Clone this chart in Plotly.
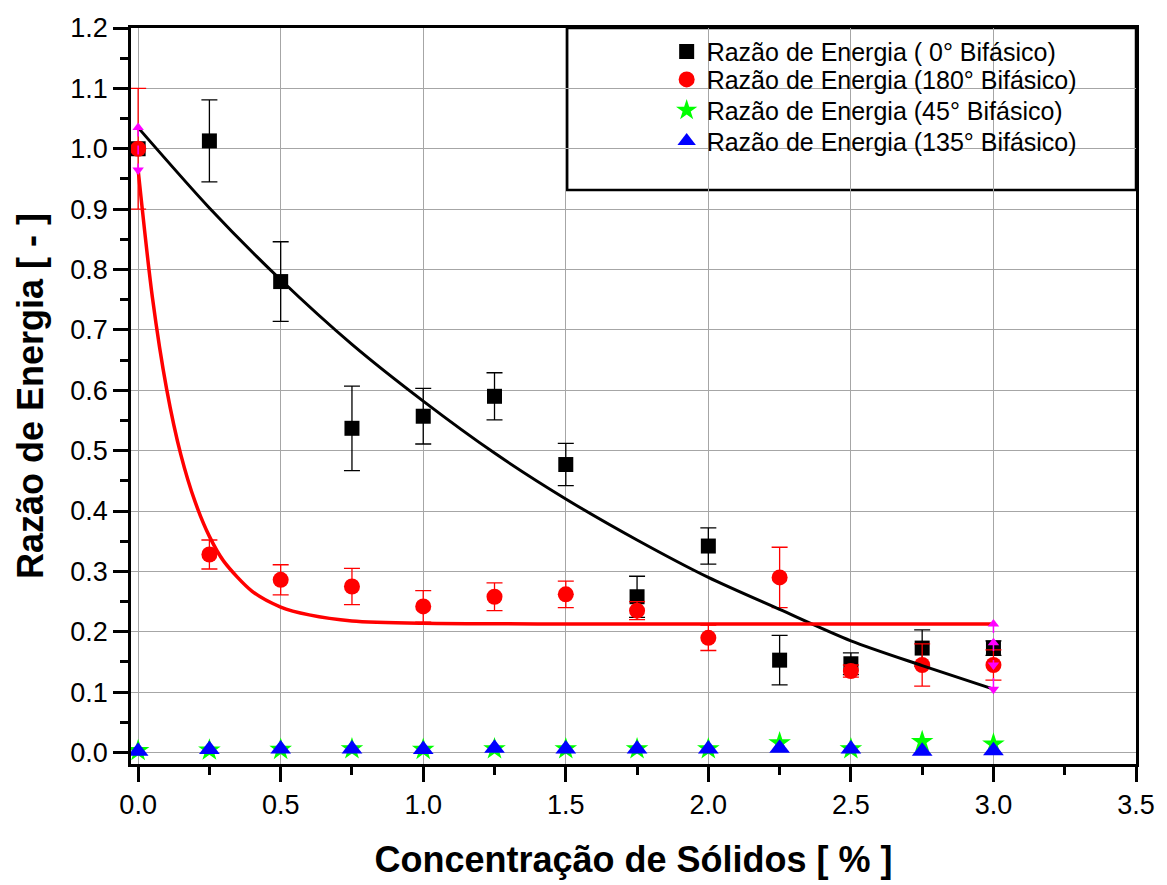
import plotly.graph_objects as go

# ---------------- data ----------------
conc = [0.0, 0.25, 0.5, 0.75, 1.0, 1.25, 1.5, 1.75, 2.0, 2.25, 2.5, 2.75, 3.0]

e0 = [1.0, 1.013, 0.780, 0.537, 0.557, 0.590, 0.477, 0.258, 0.342, 0.153, 0.147, 0.173, 0.173]
e0_err = [0.0, 0.068, 0.066, 0.070, 0.046, 0.039, 0.035, 0.034, 0.030, 0.041, 0.018, 0.030, 0.012]

e180 = [1.0, 0.328, 0.286, 0.275, 0.242, 0.258, 0.262, 0.235, 0.190, 0.290, 0.135, 0.145, 0.145]
e180_err = [0.100, 0.024, 0.025, 0.030, 0.026, 0.023, 0.022, 0.015, 0.021, 0.050, 0.010, 0.035, 0.025]

e45 = [0.003, 0.004, 0.005, 0.006, 0.005, 0.006, 0.006, 0.006, 0.006, 0.016, 0.006, 0.018, 0.014]
e135 = [0.002, 0.005, 0.006, 0.006, 0.005, 0.007, 0.006, 0.006, 0.006, 0.007, 0.006, 0.002, 0.003]

# fitted curves
fit0_x = [0, 0.25, 0.5, 0.75, 1.0, 1.25, 1.5, 1.75, 2.0, 2.25, 2.5, 2.75, 3.0]
fit0_y = [1.035, 0.902, 0.783, 0.676, 0.582, 0.496, 0.420, 0.352, 0.290, 0.237, 0.185, 0.144, 0.105]
fit180_x = [0, 0.05, 0.1, 0.15, 0.2, 0.25, 0.3, 0.4, 0.5, 0.6, 0.75, 1.0, 1.5, 2.0, 2.5, 3.0]
fit180_y = [0.965, 0.754, 0.602, 0.493, 0.415, 0.358, 0.317, 0.267, 0.241, 0.228, 0.218, 0.214,
            0.213, 0.213, 0.213, 0.213]

# range markers at curve ends
rng0_x = [0, 0]
rng0_y = [1.035, 0.965]
rng0_sym = ["triangle-up", "triangle-down"]
rng3_x = [3, 3, 3, 3]
rng3_y = [0.213, 0.182, 0.145, 0.105]
rng3_sym = ["triangle-up", "triangle-up", "triangle-down", "triangle-down"]

names = ["Razão de Energia ( 0° Bifásico)", "Razão de Energia (180° Bifásico)",
         "Razão de Energia (45° Bifásico)", "Razão de Energia (135° Bifásico)"]

x_ticks = [0.0, 0.5, 1.0, 1.5, 2.0, 2.5, 3.0, 3.5]
y_ticks = [0.0, 0.1, 0.2, 0.3, 0.4, 0.5, 0.6, 0.7, 0.8, 0.9, 1.0, 1.1, 1.2]

FONT = "Liberation Sans, Arial, sans-serif"

fig = go.Figure()

fig.add_trace(go.Scatter(
    x=conc, y=e0, mode="markers", name=names[0], legend="legend",
    marker=dict(symbol="square", size=15, color="black"),
    error_y=dict(type="data", array=e0_err, visible=True, color="black", thickness=1.3, width=8),
))
fig.add_trace(go.Scatter(
    x=conc, y=e180, mode="markers", name=names[1], legend="legend2",
    marker=dict(symbol="circle", size=16, color="red"),
    error_y=dict(type="data", array=e180_err, visible=True, color="red", thickness=1.3, width=8),
))
fig.add_trace(go.Scatter(
    x=conc, y=e45, mode="markers", name=names[2], legend="legend3",
    marker=dict(symbol="star", size=17, color="#00ff00"),
))
fig.add_trace(go.Scatter(
    x=conc, y=e135, mode="markers", name=names[3], legend="legend4",
    marker=dict(symbol="triangle-up", size=18, color="blue"),
))
fig.add_trace(go.Scatter(
    x=fit0_x, y=fit0_y, mode="lines", showlegend=False,
    line=dict(color="black", width=3, shape="spline", smoothing=0.8),
))
fig.add_trace(go.Scatter(
    x=fit180_x, y=fit180_y, mode="lines", showlegend=False,
    line=dict(color="red", width=3.5, shape="spline", smoothing=0.8),
))
fig.add_trace(go.Scatter(
    x=rng0_x, y=rng0_y, mode="lines+markers", showlegend=False,
    line=dict(color="magenta", width=1.5, dash="dash"),
    marker=dict(symbol=rng0_sym, size=10, color="magenta"),
))
fig.add_trace(go.Scatter(
    x=rng3_x, y=rng3_y, mode="lines+markers", showlegend=False,
    line=dict(color="magenta", width=1.5, dash="dash"),
    marker=dict(symbol=rng3_sym, size=10, color="magenta"),
))

axis_common = dict(
    showline=True, linecolor="black", linewidth=2.5, mirror=True,
    showgrid=True, gridcolor="#a6a6a6", gridwidth=1,
    ticks="outside", ticklen=15, tickwidth=2.5, tickcolor="black",
    tickfont=dict(family=FONT, size=27, color="black"),
    zeroline=False,
)

fig.update_xaxes(
    **axis_common,
    range=[-0.025, 3.5], tickvals=x_ticks, ticktext=[f"{v:.1f}" for v in x_ticks],
    minor=dict(dtick=0.25, tick0=0, ticks="outside", ticklen=8, tickwidth=2.5,
               tickcolor="black", showgrid=False),
    title=dict(text="Concentração de Sólidos [ % ]",
               font=dict(family=FONT, size=36, color="black", weight="bold"), standoff=28),
)
fig.update_yaxes(
    **axis_common,
    range=[-0.019, 1.2], tickvals=y_ticks, ticktext=[f"{v:.1f}" for v in y_ticks],
    minor=dict(dtick=0.05, tick0=0, ticks="outside", ticklen=8, tickwidth=2.5,
               tickcolor="black", showgrid=False),
    title=dict(text="Razão de Energia [ - ]",
               font=dict(family=FONT, size=36, color="black", weight="bold"), standoff=16),
)

fig.add_shape(type="rect", xref="paper", yref="paper",
              x0=0.434, x1=1.0, y0=0.78, y1=1.0,
              line=dict(color="black", width=2.5), fillcolor="white", layer="below")

legend_font = dict(family=FONT, size=25, color="black")
legend_y = [0.9676, 0.9298, 0.888, 0.8462]
legend_common = dict(x=0.533, xanchor="left", yanchor="middle",
                     bgcolor="rgba(0,0,0,0)", borderwidth=0, font=legend_font,
                     itemsizing="trace")

fig.update_layout(
    width=1167, height=885,
    margin=dict(l=131, r=30, t=28, b=116),
    paper_bgcolor="white", plot_bgcolor="white",
    showlegend=True,
    legend=dict(y=legend_y[0], **legend_common),
    legend2=dict(y=legend_y[1], **legend_common),
    legend3=dict(y=legend_y[2], **legend_common),
    legend4=dict(y=legend_y[3], **legend_common),
    font=dict(family=FONT),
)

fig.write_html("out.html")
